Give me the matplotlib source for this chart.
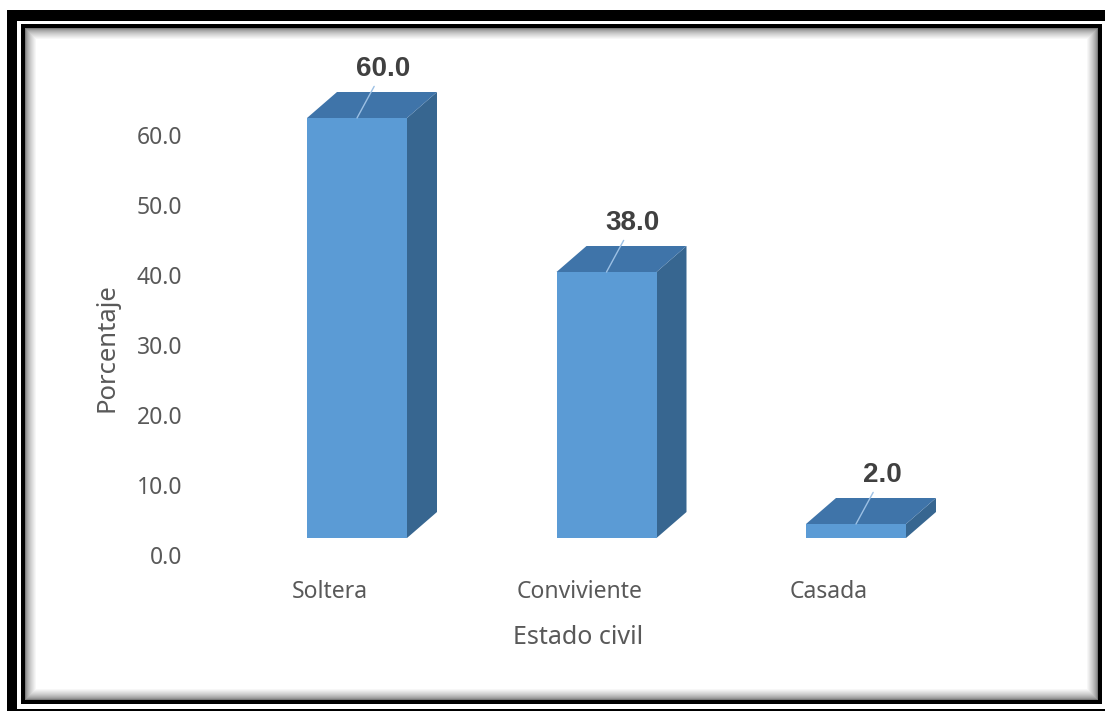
import matplotlib.pyplot as plt
from matplotlib.patches import Rectangle, Polygon
from matplotlib.transforms import ScaledTranslation

categories = ['Soltera', 'Conviviente', 'Casada']
values     = [60.0, 38.0, 2.0]
yticks     = [0, 10, 20, 30, 40, 50, 60]

W, H, DPI = 1105, 711, 100
fig = plt.figure(figsize=(W / DPI, H / DPI), dpi=DPI)
fig.patch.set_facecolor('white')

# --- marco negro con sombra interior (coordenadas en pixeles desde arriba-izq)
def frame_rect(x0, y0, x1, y1, color, z):
    r = Rectangle((x0 / W, 1 - y1 / H), (x1 - x0) / W, (y1 - y0) / H,
                  transform=fig.transFigure, facecolor=color, edgecolor='none',
                  zorder=z)
    fig.patches.append(r)

frame_rect(7, 10, 1130, 740, 'black', 0)
frame_rect(17, 21, 1112, 708.5, 'white', 1)
frame_rect(21, 23.5, 1102, 704, 'black', 2)
steps = 12
for k in range(steps):
    g = 0.48 + 0.52 * (k / (steps - 1)) ** 0.65
    frame_rect(25 + k, 27.5 + k, 1098 - k, 700 - k, (g, g, g), 3 + k * 0.01)

# --- ejes: x en categorias, y en porcentaje
ax = fig.add_axes([0, 0, 1, 1])
ax.set_zorder(10)
ax.set_axis_off()
ax.patch.set_visible(False)
x_px, step_px, base_px, unit_px = 357, 249.5, 538, 7.0
ax.set_xlim((0 - x_px) / step_px, (W - x_px) / step_px)
ax.set_ylim((base_px - H) / unit_px, base_px / unit_px)

def off(dx_px, dy_px):
    return ax.transData + ScaledTranslation(dx_px / DPI, dy_px / DPI, fig.dpi_scale_trans)

front_c, top_c, side_c = '#5B9BD5', '#3F74A9', '#376690'
bw = 100 / step_px
dx = 30 / step_px
dy = 26 / unit_px

for i, v in enumerate(values):
    l, r = i - bw / 2, i + bw / 2
    ax.add_patch(Polygon([(r, 0), (r + dx, dy), (r + dx, v + dy), (r, v)],
                         closed=True, facecolor=side_c, edgecolor='none', zorder=5))
    ax.add_patch(Polygon([(l, v), (r, v), (r + dx, v + dy), (l + dx, v + dy)],
                         closed=True, facecolor=top_c, edgecolor='none', zorder=5))
    ax.add_patch(Rectangle((l, 0), bw, v, facecolor=front_c, edgecolor='none', zorder=6))
    ax.annotate(f'{v:.1f}', xy=(i, v), xytext=(19, 35), textcoords='offset points',
                ha='center', va='center', fontsize=20, fontweight='bold',
                family='Liberation Sans', color='#404040', zorder=8,
                arrowprops=dict(arrowstyle='-', color='#9CC0E4', lw=1,
                                shrinkA=1, shrinkB=0))
    ax.text(i, 0, categories[i], transform=off(-27, -54), ha='center', va='center',
            fontsize=16.5, family='Noto Sans', color='#595959')

for t in yticks:
    ax.text(-0.70, t, f'{t:.1f}', transform=off(0, -20), ha='right', va='center',
            fontsize=16.5, family='Noto Sans', color='#595959')

ax.text(1, 0, 'Estado civil', transform=off(-28, -100), ha='center', va='center',
        fontsize=18, family='Noto Sans', color='#595959')
ax.text(-1.0, 30, 'Porcentaje', transform=off(0, -20), ha='center', va='center',
        rotation=90, fontsize=18.5, family='Noto Sans', color='#595959')

fig.savefig('out.png', dpi=DPI)
